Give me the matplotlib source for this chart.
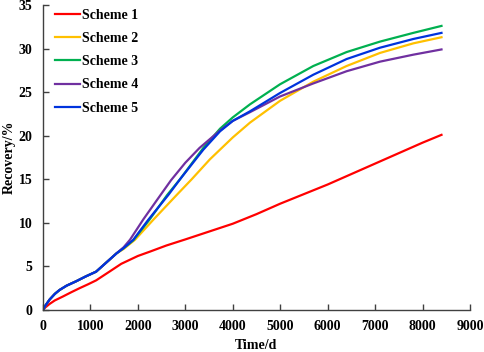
import matplotlib.pyplot as plt

plt.rcParams['font.family'] = ['Liberation Serif', 'DejaVu Serif']
plt.rcParams['font.weight'] = 'bold'

# Time/d for each scheme
t_s1 = [0, 50, 140, 250, 420, 600, 770, 950, 1120, 1400, 1650, 2000, 2255, 2600, 3000, 3500,
        4000, 4500, 5000, 5500, 6000, 6500, 7000, 7500, 8000, 8400]
s1 = [0, 0.3, 0.7, 1.1, 1.55, 2.05, 2.5, 2.95, 3.4, 4.4, 5.3, 6.2, 6.7, 7.4, 8.1, 9.0,
      9.9, 11.0, 12.2, 13.3, 14.4, 15.6, 16.8, 18.0, 19.2, 20.1]

t_s2 = [0, 50, 140, 250, 350, 500, 700, 900, 1120, 1550, 1700, 1939, 2326, 2818, 3134, 3520,
        4000, 4363, 4996, 5698, 6400, 7104, 7806, 8400]
s2 = [0, 0.5, 1.2, 1.85, 2.3, 2.8, 3.3, 3.85, 4.4, 6.5, 7.0, 8.06, 10.36, 13.2, 15.0, 17.3,
      19.8, 21.5, 24.0, 26.2, 28.0, 29.5, 30.6, 31.3]

t_s3 = [0, 50, 140, 250, 350, 500, 700, 900, 1120, 1550, 1700, 1904, 2250, 2618, 2888, 3380,
        3731, 4000, 4363, 4996, 5698, 6400, 7104, 7806, 8400]
s3 = [0, 0.5, 1.2, 1.85, 2.3, 2.8, 3.3, 3.85, 4.4, 6.5, 7.1, 8.0, 10.4, 13.2, 15.0, 18.6,
      20.8, 22.1, 23.6, 25.9, 28.0, 29.6, 30.8, 31.8, 32.6]

t_s4 = [0, 50, 140, 250, 350, 500, 700, 900, 1120, 1550, 1700, 1834, 2115, 2400, 2700, 3000,
        3300, 3731, 4000, 4363, 4996, 5698, 6400, 7104, 7806, 8400]
s4 = [0, 0.5, 1.2, 1.85, 2.3, 2.8, 3.3, 3.85, 4.4, 6.5, 7.2, 8.06, 10.4, 12.6, 14.9, 16.9,
      18.6, 20.6, 21.7, 22.7, 24.5, 26.0, 27.4, 28.5, 29.3, 29.9]

t_s5 = [0, 50, 140, 250, 350, 500, 700, 900, 1120, 1550, 1700, 1904, 2220, 2642, 2888, 3380,
        3731, 4000, 4363, 4996, 5698, 6400, 7104, 7806, 8400]
s5 = [0, 0.5, 1.2, 1.85, 2.3, 2.8, 3.3, 3.85, 4.4, 6.5, 7.1, 8.06, 10.36, 13.2, 15.0, 18.4,
      20.5, 21.7, 22.8, 24.9, 27.0, 28.8, 30.1, 31.1, 31.8]

labels = ['Scheme 1', 'Scheme 2', 'Scheme 3', 'Scheme 4', 'Scheme 5']
colors = ['#FF0000', '#FFC000', '#00B050', '#7030A0', '#0033DD']

fig = plt.figure(figsize=(4.84, 3.52), dpi=100)
ax = fig.add_axes([0.0888, 0.1193, 0.8822, 0.8665])

series = [(t_s1, s1), (t_s2, s2), (t_s3, s3), (t_s4, s4), (t_s5, s5)]
for (t, s), lab, c in zip(series, labels, colors):
    ax.plot(t, s, color=c, lw=1.6, label=lab)

ax.set_xlim(0, 9000)
ax.set_ylim(0, 35)
ax.set_xticks(range(0, 9001, 1000))
ax.set_yticks(range(0, 36, 5))
for side in ['top', 'right']:
    ax.spines[side].set_visible(False)
for side in ['left', 'bottom']:
    ax.spines[side].set_color('#404040')
    ax.spines[side].set_linewidth(1.0)
ax.tick_params(direction='in', length=4, width=1, color='#404040', labelsize=10, pad=7.5)

ax.set_xlabel('Time/d', fontsize=10, fontweight='bold', labelpad=4)
ax.set_ylabel('Recovery/%', fontsize=10, fontweight='bold', labelpad=2)

ax.legend(loc='upper left', bbox_to_anchor=(-0.001, 1.028), frameon=False, fontsize=10,
          handlelength=1.8, handletextpad=0.15, labelspacing=0.73)

fig.savefig('out.png', dpi=100)
